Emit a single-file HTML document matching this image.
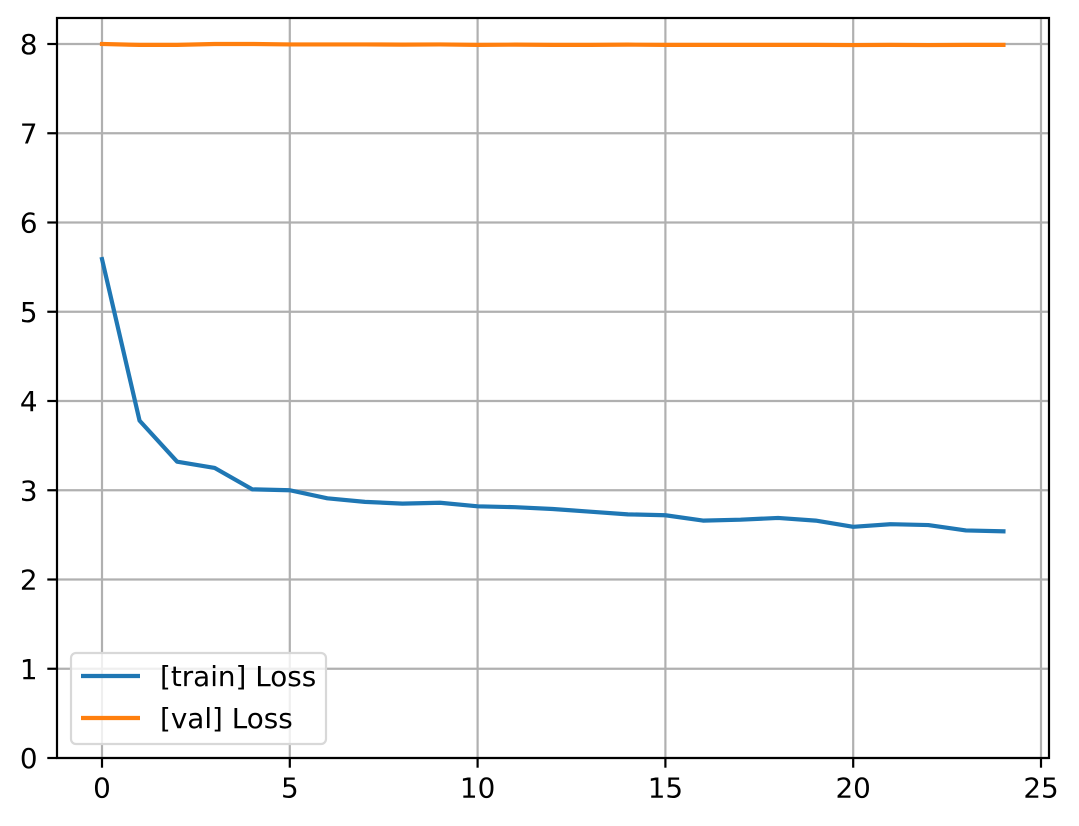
<!DOCTYPE html>
<html><head><meta charset="utf-8"><style>
html,body{margin:0;padding:0;background:#fff;}
svg{display:block;font-family:"DejaVu Sans","Liberation Sans",sans-serif;}
</style></head><body>
<svg id="chart" width="1079" height="826" xmlns="http://www.w3.org/2000/svg"></svg>
<script>
const epochs = [0,1,2,3,4,5,6,7,8,9,10,11,12,13,14,15,16,17,18,19,20,21,22,23,24];
const trainLoss = [5.59,3.78,3.32,3.25,3.01,3.00,2.91,2.87,2.85,2.86,2.82,2.81,2.79,2.76,2.73,2.72,2.66,2.67,2.69,2.66,2.59,2.62,2.61,2.55,2.54];
const valLoss = [8.0,7.99,7.99,8.0,8.0,7.995,7.995,7.995,7.993,7.995,7.99,7.993,7.99,7.99,7.993,7.99,7.99,7.99,7.99,7.99,7.988,7.99,7.988,7.99,7.99];
const xTicks = [0,5,10,15,20,25];
const yTicks = [0,1,2,3,4,5,6,7,8];
const seriesNames = ["[train] Loss","[val] Loss"];

const NS="http://www.w3.org/2000/svg";
const svg=document.getElementById('chart');
const L=57,R=1049,T=18,B=758;
const FS=27.8;
const xs=v=>102+v*(1041-102)/25;
const ys=v=>758-v*89.25;
function mk(tag,attrs,parent){const e=document.createElementNS(NS,tag);for(const k in attrs)e.setAttribute(k,attrs[k]);(parent||svg).appendChild(e);return e;}

const grid=mk('g',{});


xTicks.forEach(t=>{
  const l=mk('line',{x1:xs(t),x2:xs(t),y1:T,y2:B,stroke:'#b0b0b0','stroke-width':2.2},grid);
  
  
  const tk=mk('line',{x1:xs(t),x2:xs(t),y1:B,y2:B+9.7,stroke:'#000','stroke-width':2.2});
  
  
  const tx=mk('text',{x:xs(t),y:B+19.4+20.3,'text-anchor':'middle','font-size':FS});
  tx.textContent=t;
  
  
});
yTicks.forEach(t=>{
  const l=mk('line',{x1:L,x2:R,y1:ys(t),y2:ys(t),stroke:'#b0b0b0','stroke-width':2.2},grid);
  
  
  const tk=mk('line',{x1:L-9.7,x2:L,y1:ys(t),y2:ys(t),stroke:'#000','stroke-width':2.2});
  
  
  const tx=mk('text',{x:L-19.4,y:ys(t)+10.1,'text-anchor':'end','font-size':FS});
  tx.textContent=t;
  
  
});
function line(data,color,name){
  const p=mk('polyline',{points:data.map((v,i)=>xs(epochs[i])+','+ys(v)).join(' '),fill:'none',stroke:color,'stroke-width':4.2,'stroke-linejoin':'round','stroke-linecap':'square'});
  
  
}
line(trainLoss,'#1f77b4','train-loss-line');
line(valLoss,'#ff7f0e','val-loss-line');
const frame=mk('rect',{x:L,y:T,width:R-L,height:B-T,fill:'none',stroke:'#000','stroke-width':2.2});



const lg=mk('g',{});


mk('rect',{x:71,y:653,width:255,height:91,rx:5,fill:'#fff','fill-opacity':0.8,stroke:'#d8d8d8','stroke-width':2.2},lg);
[['#1f77b4',676],['#ff7f0e',718]].forEach((c,i)=>{
  const g=mk('g',{},lg);
  
  
  mk('line',{x1:81,x2:140,y1:c[1],y2:c[1],stroke:c[0],'stroke-width':4.2},g);
  const t=mk('text',{x:160,y:c[1]+10,'font-size':FS},g);
  t.textContent=seriesNames[i];
});
</script>
</body></html>
